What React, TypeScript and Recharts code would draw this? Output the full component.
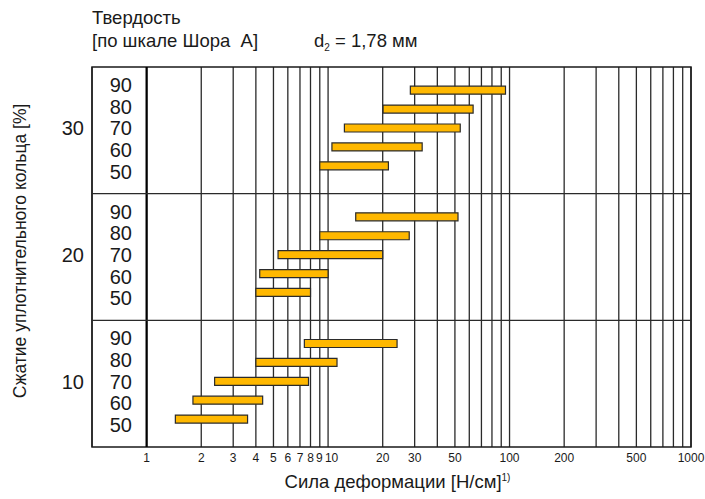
import React from 'react';
import { BarChart, Bar, XAxis, YAxis, CartesianGrid, ReferenceLine, ReferenceArea } from 'recharts';

// ---- data ----
const compressionLevels = [30, 20, 10]; // % compression, top to bottom
const hardnessLevels = [90, 80, 70, 60, 50]; // Shore A, top to bottom within band

const minForce30 = [28.4, 20.1, 12.3, 10.5, 9.0];
const maxForce30 = [95, 63, 53.5, 33, 21.5];
const minForce20 = [14.2, 9.0, 5.3, 4.2, 4.0];
const maxForce20 = [52, 28, 20, 10, 8];
const minForce10 = [7.4, 4.0, 2.37, 1.8, 1.44];
const maxForce10 = [24, 11.2, 7.8, 4.36, 3.6];

const xTicks = [1, 2, 3, 4, 5, 6, 7, 8, 9, 10, 20, 30, 40, 50, 60, 70, 80, 90, 100, 200, 300, 400, 500, 600, 700, 800, 900, 1000];
const xTickLabels = [1, 2, 3, 4, 5, 6, 7, 8, 9, 10, 20, 30, 50, 100, 200, 500, 1000];

// ---- layout constants (positions only) ----
const Y_MAX = 20;
const BAND = Y_MAX / compressionLevels.length;
const CENTER_SHIFT = -0.1;
const BAR_STEP = 0.995;
const LABEL_STEP = 1.14;

const minByComp = [minForce30, minForce20, minForce10];
const maxByComp = [maxForce30, maxForce20, maxForce10];

type Row = { y: number; comp: number; hardness: number; range: [number, number] };
type LabelTick = { y: number; comp: number; hardness: number };

// y grows downward in this vertical layout: band 0 (30 %) is on top
const rows: Row[] = [];
const labelTicks: LabelTick[] = [];
compressionLevels.forEach((comp, ci) => {
  const center = ci * BAND + BAND / 2 + CENTER_SHIFT;
  hardnessLevels.forEach((h, hi) => {
    rows.push({
      y: center + ((70 - h) / 10) * BAR_STEP,
      comp,
      hardness: h,
      range: [minByComp[ci][hi], maxByComp[ci][hi]],
    });
    labelTicks.push({ y: center + ((70 - h) / 10) * LABEL_STEP, comp, hardness: h });
  });
});

const FONT = '"Liberation Sans", Arial, Helvetica, sans-serif';
const INK = '#1a1a1a';

const RowTick = (props: any) => {
  const { x, y, payload } = props;
  const t = labelTicks.find((l) => Math.abs(l.y - payload.value) < 1e-6);
  if (!t) return null;
  return (
    <g>
      <text x={x + 40} y={y} textAnchor="end" dominantBaseline="central" fontSize={20} fill={INK} fontFamily={FONT}>
        {t.hardness}
      </text>
      {t.hardness === 70 && (
        <text x={x - 8} y={y} textAnchor="end" dominantBaseline="central" fontSize={20} fill={INK} fontFamily={FONT}>
          {t.comp}
        </text>
      )}
    </g>
  );
};

const ForceTick = (props: any) => {
  const { x, y, payload } = props;
  const v = payload.value;
  if (!xTickLabels.includes(v)) return null;
  const dx = v === 10 ? 3.5 : v === 9 ? -0.5 : 0;
  return (
    <text x={x + dx} y={y} dy="0.71em" textAnchor="middle" fontSize={12} fill={INK} fontFamily={FONT}>
      {String(v)}
    </text>
  );
};

export default function App() {
  return (
    <div style={{ position: 'relative', width: 705, height: 499, background: '#fff' }}>
      <style>{`body{margin:0;}`}</style>
      <BarChart
        width={705}
        height={499}
        data={rows}
        layout="vertical"
        margin={{ top: 67, right: 14, bottom: 22, left: 32 }}
      >
        <CartesianGrid horizontal={false} vertical={true} stroke="#2a2a2a" strokeWidth={1.3} />
        <XAxis
          type="number"
          scale="log"
          domain={[0.5, 1000]}
          allowDataOverflow
          ticks={xTicks}
          interval={0}
          axisLine={false}
          tickLine={false}
          tickSize={0}
          tickMargin={6}
          height={30}
          tick={<ForceTick />}
          label={{
            content: (p: any) => {
              const vb = p.viewBox || { x: 92, y: 447, width: 599 };
              return (
                <text
                  x={vb.x + vb.width / 2 + 6}
                  y={vb.y + 41}
                  textAnchor="middle"
                  fontSize={18.5}
                  fill={INK}
                  fontFamily={FONT}
                >
                  Сила деформации [Н/см]
                  <tspan fontSize={10} dy={-7}>1)</tspan>
                </text>
              );
            },
          }}
        />
        <YAxis
          type="number"
          dataKey="y"
          domain={[0, Y_MAX]}
          allowDataOverflow
          ticks={labelTicks.map((l) => l.y)}
          interval={0}
          width={60}
          axisLine={false}
          tickLine={false}
          tickSize={0}
          tickMargin={0}
          tick={<RowTick />}
          label={{
            content: () => (
              <text
                x={26}
                y={251}
                transform="rotate(-90, 26, 251)"
                textAnchor="middle"
                fontSize={17.5}
                fill={INK}
                fontFamily={FONT}
              >
                Сжатие уплотнительного кольца [%]
              </text>
            ),
          }}
        />
        <ReferenceLine x={1} stroke="#000" strokeWidth={2.2} />
        <ReferenceLine y={BAND} stroke="#2a2a2a" strokeWidth={1.3} />
        <ReferenceLine y={BAND * 2} stroke="#2a2a2a" strokeWidth={1.3} />
        <ReferenceArea x1={0.5} x2={1000} y1={0} y2={Y_MAX} fill="none" fillOpacity={0} stroke="#1a1a1a" strokeWidth={1.5} />
        <Bar dataKey="range" barSize={8} fill="#FFB800" stroke="#2b2b2b" strokeWidth={1.2} isAnimationActive={false} />
      </BarChart>
      <svg
        width={705}
        height={60}
        style={{ position: 'absolute', left: 0, top: 0, pointerEvents: 'none' }}
      >
        <text x={92} y={24} fontSize={18.5} fill={INK} fontFamily={FONT}>
          Твердость
        </text>
        <text x={92} y={46.5} fontSize={18.5} fill={INK} fontFamily={FONT}>
          {'[по шкале Шора\u00a0 А]'}
        </text>
        <text x={314} y={46.5} fontSize={18.5} fill={INK} fontFamily={FONT}>
          d
          <tspan fontSize={10} dy={4}>2</tspan>
          <tspan dy={-4}>{' = 1,78 мм'}</tspan>
        </text>
      </svg>
    </div>
  );
}
